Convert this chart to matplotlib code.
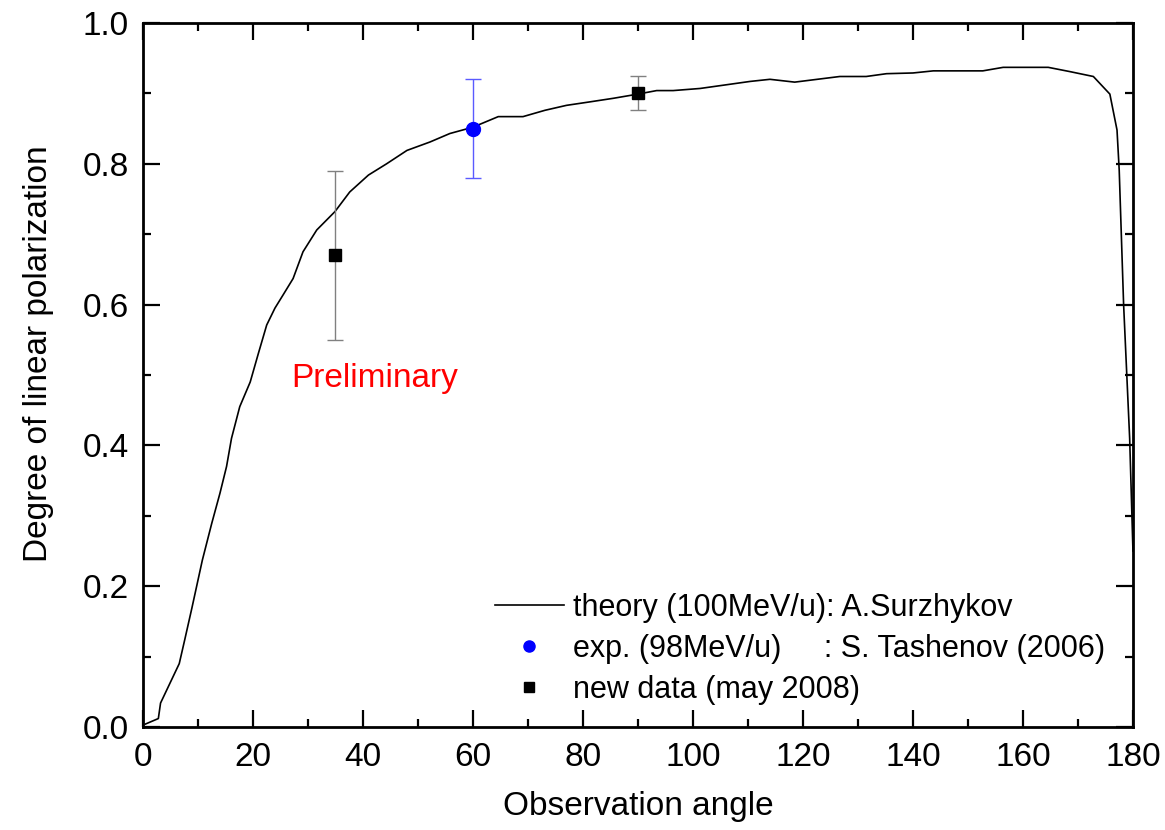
import matplotlib
matplotlib.use("Agg")
import matplotlib.pyplot as plt
from matplotlib.ticker import MultipleLocator, FormatStrFormatter
from matplotlib.lines import Line2D

plt.rcParams['font.family'] = ['Liberation Sans', 'DejaVu Sans']

# Theory curve: degree of linear polarization vs observation angle
theory_angle = [0.4, 2.8, 3.2, 6.6, 7.6, 8.9, 10.8, 12.5, 14.0, 15.2, 16.1, 17.6,
                19.5, 21.0, 22.5, 24.0, 25.5, 27.3, 29.1, 31.6, 34.9, 37.6, 41.0,
                44.3, 48.0, 52.2, 55.8, 60.0, 64.6, 69.1, 73.1, 77.0, 81.3, 85.5,
                90.0, 93.4, 96.4, 101.3, 110.4, 114.0, 118.5, 126.7, 131.5, 135.2,
                140.0, 143.7, 152.7, 156.4, 164.6, 168.5, 172.8, 175.8, 177.1,
                177.5, 178.3, 179.4, 180.0]
theory_pol = [0.004, 0.012, 0.034, 0.090, 0.124, 0.169, 0.237, 0.289, 0.332, 0.370,
              0.410, 0.455, 0.490, 0.531, 0.571, 0.595, 0.614, 0.637, 0.675, 0.706,
              0.732, 0.760, 0.784, 0.800, 0.819, 0.831, 0.843, 0.852, 0.867, 0.867,
              0.876, 0.883, 0.888, 0.893, 0.899, 0.904, 0.904, 0.907, 0.917, 0.920,
              0.916, 0.924, 0.924, 0.928, 0.929, 0.932, 0.932, 0.937, 0.937, 0.931,
              0.924, 0.899, 0.848, 0.791, 0.600, 0.410, 0.250]

# Earlier experiment (2006)
exp_angle = [60]
exp_pol = [0.85]
exp_err = [0.07]

# New measurement (May 2008)
new_angle = [35, 90]
new_pol = [0.67, 0.90]
new_err = [0.12, 0.024]

labels = ['theory (100MeV/u): A.Surzhykov',
          'exp. (98MeV/u)     : S. Tashenov (2006)',
          'new data (may 2008)']

fig = plt.figure(figsize=(11.65, 8.3), dpi=100)
ax = fig.add_axes([0.1227, 0.1241, 0.8498, 0.8482])

ax.plot(theory_angle, theory_pol, color='black', lw=1.2)
ax.errorbar(exp_angle, exp_pol, yerr=exp_err, fmt='o', color='#0000ff',
            ms=10, ecolor='#5a5aff', elinewidth=1, capsize=6, capthick=1)
ax.errorbar(new_angle, new_pol, yerr=new_err, fmt='s', color='black',
            ms=9, ecolor='#808080', elinewidth=1, capsize=6, capthick=1)

ax.text(42.2, 0.495, 'Preliminary', color='red', fontsize=24,
        ha='center', va='center')

ax.set_xlim(0, 180)
ax.set_ylim(0, 1.0)
ax.xaxis.set_major_locator(MultipleLocator(20))
ax.xaxis.set_minor_locator(MultipleLocator(10))
ax.yaxis.set_major_locator(MultipleLocator(0.2))
ax.yaxis.set_minor_locator(MultipleLocator(0.1))
ax.yaxis.set_major_formatter(FormatStrFormatter('%.1f'))

ax.tick_params(which='both', direction='in', top=True, right=True,
               labelsize=24, width=1.6)
ax.tick_params(axis='x', pad=11)
ax.tick_params(axis='y', pad=10)
ax.tick_params(which='major', length=12)
ax.tick_params(which='minor', length=6)
for sp in ax.spines.values():
    sp.set_linewidth(2)

ax.set_xlabel('Observation angle', fontsize=24, labelpad=13)
ax.set_ylabel('Degree of linear polarization', fontsize=24, labelpad=21, y=0.53)

handles = [
    Line2D([], [], color='black', lw=1.2),
    Line2D([], [], ls='none', marker='o', color='#0000ff', ms=8),
    Line2D([], [], ls='none', marker='s', color='black', ms=7),
]
ax.legend(handles, labels, loc='upper left', frameon=False, fontsize=22,
          handlelength=2.25, handletextpad=0.3, labelspacing=0.36,
          borderpad=0, borderaxespad=0, bbox_to_anchor=(0.3556, 0.191))

fig.savefig('out.png', dpi=100)
